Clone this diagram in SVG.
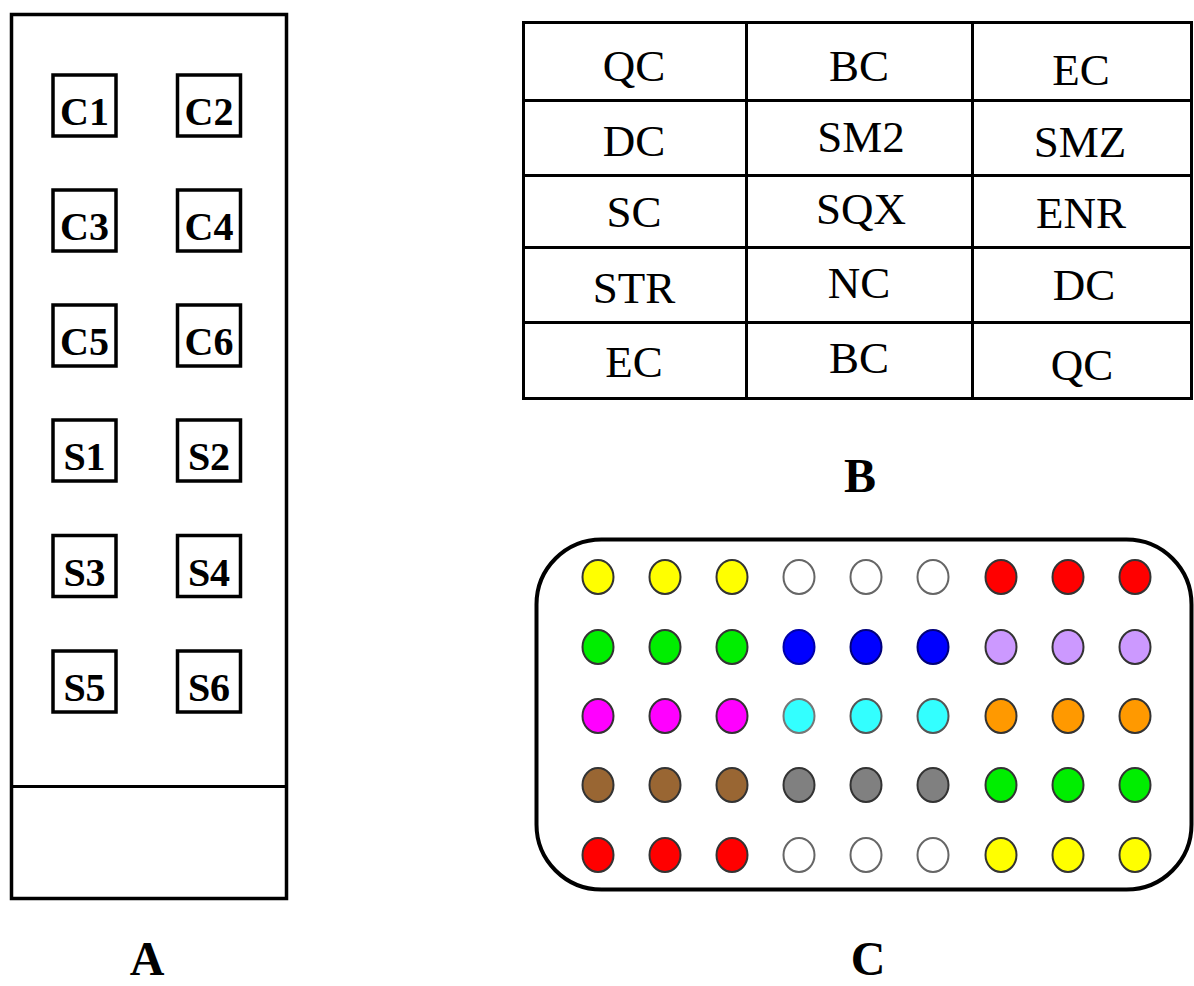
<svg xmlns="http://www.w3.org/2000/svg" width="1194" height="986" viewBox="0 0 1194 986">
<style>
.frame{fill:#fff;stroke:#000;stroke-width:3.5}
.box{fill:#fff;stroke:#000;stroke-width:3.5}
.bl{font-family:"Liberation Serif","Times New Roman",serif;font-weight:bold;font-size:40px;text-anchor:middle;fill:#000}
.cap{font-family:"Liberation Serif","Times New Roman",serif;font-weight:bold;font-size:48px;text-anchor:middle;fill:#000}
.tl{stroke:#000;stroke-width:3;fill:none}
.tt{font-family:"Liberation Serif","Times New Roman",serif;font-size:45px;text-anchor:middle;fill:#000}
.dot{stroke:#333;stroke-width:2}
.w{fill:#fff;stroke:#666}
</style>
<rect width="1194" height="986" fill="#fff"/>
<g id="panelA">
<rect class="frame" x="11.5" y="14.5" width="275" height="884"/>
<line class="tl" x1="11.5" y1="786.5" x2="286.5" y2="786.5" stroke-width="3.5"/>
<g id="C1"><rect class="box" x="53" y="75" width="63" height="61"/><text class="bl" x="84.5" y="125">C1</text></g>
<g id="C2"><rect class="box" x="177.5" y="75" width="63" height="61"/><text class="bl" x="209" y="125">C2</text></g>
<g id="C3"><rect class="box" x="53" y="190" width="63" height="61"/><text class="bl" x="84.5" y="240">C3</text></g>
<g id="C4"><rect class="box" x="177.5" y="190" width="63" height="61"/><text class="bl" x="209" y="240">C4</text></g>
<g id="C5"><rect class="box" x="53" y="305" width="63" height="61"/><text class="bl" x="84.5" y="355">C5</text></g>
<g id="C6"><rect class="box" x="177.5" y="305" width="63" height="61"/><text class="bl" x="209" y="355">C6</text></g>
<g id="S1"><rect class="box" x="53" y="420" width="63" height="61"/><text class="bl" x="84.5" y="470">S1</text></g>
<g id="S2"><rect class="box" x="177.5" y="420" width="63" height="61"/><text class="bl" x="209" y="470">S2</text></g>
<g id="S3"><rect class="box" x="53" y="535.5" width="63" height="61"/><text class="bl" x="84.5" y="585.5">S3</text></g>
<g id="S4"><rect class="box" x="177.5" y="535.5" width="63" height="61"/><text class="bl" x="209" y="585.5">S4</text></g>
<g id="S5"><rect class="box" x="53" y="651" width="63" height="61"/><text class="bl" x="84.5" y="701">S5</text></g>
<g id="S6"><rect class="box" x="177.5" y="651" width="63" height="61"/><text class="bl" x="209" y="701">S6</text></g>
<text class="cap" x="147" y="975">A</text>
</g>
<g id="panelB">
<rect class="tl" x="523.5" y="22.5" width="668" height="376" fill="#fff"/>
<line class="tl" x1="523.5" y1="100.5" x2="1191.5" y2="100.5"/>
<line class="tl" x1="523.5" y1="175.5" x2="1191.5" y2="175.5"/>
<line class="tl" x1="523.5" y1="247.5" x2="1191.5" y2="247.5"/>
<line class="tl" x1="523.5" y1="322.5" x2="1191.5" y2="322.5"/>
<line class="tl" x1="746.5" y1="22.5" x2="746.5" y2="398.5"/>
<line class="tl" x1="972.5" y1="22.5" x2="972.5" y2="398.5"/>
<text class="tt" x="634" y="81">QC</text>
<text class="tt" x="859" y="81">BC</text>
<text class="tt" x="1081" y="85">EC</text>
<text class="tt" x="634" y="156">DC</text>
<text class="tt" x="861" y="152">SM2</text>
<text class="tt" x="1080" y="157">SMZ</text>
<text class="tt" x="634" y="227">SC</text>
<text class="tt" x="861" y="224">SQX</text>
<text class="tt" x="1081" y="228">ENR</text>
<text class="tt" x="634" y="303">STR</text>
<text class="tt" x="859" y="298">NC</text>
<text class="tt" x="1084" y="300">DC</text>
<text class="tt" x="634" y="377">EC</text>
<text class="tt" x="859" y="373">BC</text>
<text class="tt" x="1082" y="380">QC</text>
<text class="cap" x="860" y="492">B</text>
</g>
<g id="panelC">
<rect x="536.5" y="539.5" width="655" height="350" rx="65" ry="65" fill="#fff" stroke="#000" stroke-width="4"/>
<g class="dot">
<ellipse cx="598" cy="577" rx="15.5" ry="17" fill="#ffff00"/>
<ellipse cx="665" cy="577" rx="15.5" ry="17" fill="#ffff00"/>
<ellipse cx="732" cy="577" rx="15.5" ry="17" fill="#ffff00"/>
<ellipse class="w" cx="799" cy="577" rx="15.5" ry="17"/>
<ellipse class="w" cx="866" cy="577" rx="15.5" ry="17"/>
<ellipse class="w" cx="933" cy="577" rx="15.5" ry="17"/>
<ellipse cx="1001" cy="577" rx="15.5" ry="17" fill="#ff0000"/>
<ellipse cx="1068" cy="577" rx="15.5" ry="17" fill="#ff0000"/>
<ellipse cx="1135" cy="577" rx="15.5" ry="17" fill="#ff0000"/>

<ellipse cx="598" cy="647" rx="15.5" ry="17" fill="#00ee00"/>
<ellipse cx="665" cy="647" rx="15.5" ry="17" fill="#00ee00"/>
<ellipse cx="732" cy="647" rx="15.5" ry="17" fill="#00ee00"/>
<ellipse cx="799" cy="647" rx="15.5" ry="17" fill="#0000ff" stroke="#0000aa"/>
<ellipse cx="866" cy="647" rx="15.5" ry="17" fill="#0000ff" stroke="#00007a"/>
<ellipse cx="933" cy="647" rx="15.5" ry="17" fill="#0000ff" stroke="#00007a"/>
<ellipse cx="1001" cy="647" rx="15.5" ry="17" fill="#cc99ff"/>
<ellipse cx="1068" cy="647" rx="15.5" ry="17" fill="#cc99ff"/>
<ellipse cx="1135" cy="647" rx="15.5" ry="17" fill="#cc99ff"/>

<ellipse cx="598" cy="716" rx="15.5" ry="17" fill="#ff00ff"/>
<ellipse cx="665" cy="716" rx="15.5" ry="17" fill="#ff00ff"/>
<ellipse cx="732" cy="716" rx="15.5" ry="17" fill="#ff00ff"/>
<ellipse cx="799" cy="716" rx="15.5" ry="17" fill="#33ffff" stroke="#777"/>
<ellipse cx="866" cy="716" rx="15.5" ry="17" fill="#33ffff" stroke="#555"/>
<ellipse cx="933" cy="716" rx="15.5" ry="17" fill="#33ffff" stroke="#555"/>
<ellipse cx="1001" cy="716" rx="15.5" ry="17" fill="#ff9900"/>
<ellipse cx="1068" cy="716" rx="15.5" ry="17" fill="#ff9900"/>
<ellipse cx="1135" cy="716" rx="15.5" ry="17" fill="#ff9900"/>

<ellipse cx="598" cy="785" rx="15.5" ry="17" fill="#996633"/>
<ellipse cx="665" cy="785" rx="15.5" ry="17" fill="#996633"/>
<ellipse cx="732" cy="785" rx="15.5" ry="17" fill="#996633"/>
<ellipse cx="799" cy="785" rx="15.5" ry="17" fill="#808080"/>
<ellipse cx="866" cy="785" rx="15.5" ry="17" fill="#808080"/>
<ellipse cx="933" cy="785" rx="15.5" ry="17" fill="#808080"/>
<ellipse cx="1001" cy="785" rx="15.5" ry="17" fill="#00ee00"/>
<ellipse cx="1068" cy="785" rx="15.5" ry="17" fill="#00ee00"/>
<ellipse cx="1135" cy="785" rx="15.5" ry="17" fill="#00ee00"/>

<ellipse cx="598" cy="855" rx="15.5" ry="17" fill="#ff0000"/>
<ellipse cx="665" cy="855" rx="15.5" ry="17" fill="#ff0000"/>
<ellipse cx="732" cy="855" rx="15.5" ry="17" fill="#ff0000"/>
<ellipse class="w" cx="799" cy="855" rx="15.5" ry="17"/>
<ellipse class="w" cx="866" cy="855" rx="15.5" ry="17"/>
<ellipse class="w" cx="933" cy="855" rx="15.5" ry="17"/>
<ellipse cx="1001" cy="855" rx="15.5" ry="17" fill="#ffff00"/>
<ellipse cx="1068" cy="855" rx="15.5" ry="17" fill="#ffff00"/>
<ellipse cx="1135" cy="855" rx="15.5" ry="17" fill="#ffff00"/>
</g>
<text class="cap" x="868" y="975">C</text>
</g>
<g id="connectors"/>
</svg>
